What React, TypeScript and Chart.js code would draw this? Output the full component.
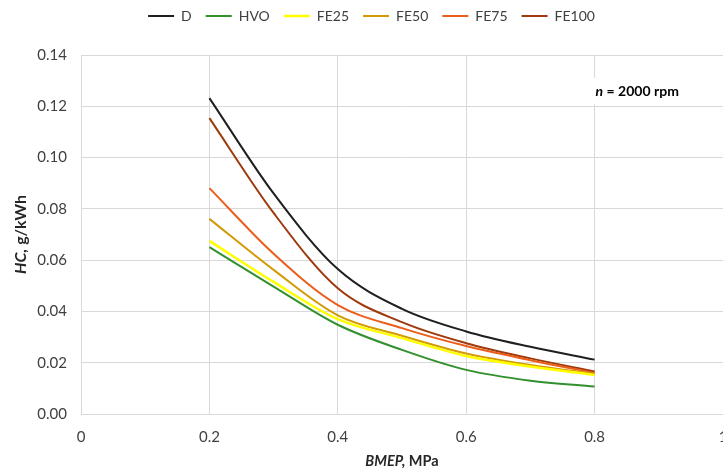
import React, { useEffect, useRef } from "react";
import { Chart, registerables } from "chart.js";

Chart.register(...registerables);

const bmep = [0.2, 0.3, 0.4, 0.5, 0.6, 0.7, 0.8];
const seriesNames = ["D", "HVO", "FE25", "FE50", "FE75", "FE100"];
const dValues = [0.1232, 0.086, 0.0565, 0.041, 0.0322, 0.0262, 0.0212];
const hvoValues = [0.0651, 0.0497, 0.0348, 0.025, 0.0172, 0.013, 0.0107];
const fe25Values = [0.0675, 0.0515, 0.037, 0.0296, 0.0226, 0.0185, 0.0152];
const fe50Values = [0.0761, 0.0562, 0.0385, 0.0305, 0.0236, 0.0191, 0.0157];
const fe75Values = [0.0881, 0.0625, 0.0425, 0.0335, 0.0265, 0.021, 0.016];
const fe100Values = [0.1154, 0.0784, 0.049, 0.0358, 0.0276, 0.0217, 0.0166];
const seriesColors = ["#1f1f1f", "#33902e", "#ffff00", "#d39a05", "#eb5e1a", "#9e3a0c"];
const xTickMin = 0;
const xTickMax = 1;
const xTickStep = 0.2;
const yTickMin = 0;
const yTickMax = 0.14;
const yTickStep = 0.02;

const FONT = "Lato";
const TEXT = "#404040";
const GRID = "#d9d9d9";

const allValues = [dValues, hvoValues, fe25Values, fe50Values, fe75Values, fe100Values];

const layoutPlugin = {
  id: "layoutTweaks",
  beforeLayout(chart: any) {
    const lg = chart.legend;
    if (lg && !lg._patched) {
      const f = lg.fit.bind(lg);
      lg.fit = () => {
        f();
        lg.height += 17;
      };
      lg._patched = true;
    }
  },
  afterLayout(chart: any) {
    const lg = chart.legend;
    if (lg) {
      const dx = 10;
      lg.left += dx;
      lg.right += dx;
      lg.top -= 5;
      lg.bottom -= 5;
    }
  },
};

function drawMixed(ctx: CanvasRenderingContext2D, parts: [string, string][], cx: number, cy: number) {
  let total = 0;
  for (const [font, t] of parts) {
    ctx.font = font;
    total += ctx.measureText(t).width;
  }
  let x = cx - total / 2;
  ctx.textAlign = "left";
  ctx.textBaseline = "middle";
  for (const [font, t] of parts) {
    ctx.font = font;
    ctx.fillText(t, x, cy);
    x += ctx.measureText(t).width;
  }
}

const textPlugin = {
  id: "textTweaks",
  beforeDatasetsDraw(chart: any) {
    const { ctx, scales } = chart;
    const xs = scales.x;
    const ys = scales.y;
    ctx.save();
    const x0 = xs.getPixelForValue(0.8) - 6;
    const yTop = ys.getPixelForValue(0.131);
    ctx.fillStyle = "#ffffff";
    ctx.fillRect(x0, yTop, 96, 26);
    ctx.fillStyle = "#000000";
    ctx.textBaseline = "alphabetic";
    ctx.textAlign = "left";
    let x = x0 + 7;
    const yb = yTop + 18;
    ctx.font = `italic bold 14px ${FONT}`;
    ctx.fillText("n", x, yb);
    x += ctx.measureText("n").width;
    ctx.font = `bold 14px ${FONT}`;
    ctx.fillText(" = 2000 rpm", x, yb);
    ctx.restore();
  },
  afterDraw(chart: any) {
    const { ctx, chartArea } = chart;
    ctx.save();
    ctx.fillStyle = "#262626";
    drawMixed(
      ctx,
      [
        [`italic bold 14.5px ${FONT}`, "BMEP,"],
        [`bold 14.5px ${FONT}`, " MPa"],
      ],
      (chartArea.left + chartArea.right) / 2,
      461.5
    );
    ctx.translate(21, (chartArea.top + chartArea.bottom) / 2);
    ctx.rotate(-Math.PI / 2);
    drawMixed(
      ctx,
      [
        [`italic bold 16px ${FONT}`, "HC,"],
        [`bold 16px ${FONT}`, " g/kWh"],
      ],
      0,
      0
    );
    ctx.restore();
  },
};

export default function App() {
  const ref = useRef<HTMLCanvasElement | null>(null);
  useEffect(() => {
    if (!ref.current) return;
    const chart = new Chart(ref.current, {
      type: "line",
      data: {
        datasets: seriesNames.map((name, i) => ({
          label: name,
          data: bmep.map((b, j) => ({ x: b, y: allValues[i][j] })),
          borderColor: seriesColors[i],
          backgroundColor: seriesColors[i],
          borderWidth: i === 2 ? 2.5 : 2,
          pointRadius: 0,
          cubicInterpolationMode: "monotone",
          fill: false,
        })),
      },
      options: {
        responsive: false,
        animation: false,
        devicePixelRatio: 1,
        layout: { padding: 0 },
        plugins: {
          legend: {
            position: "top",
            labels: {
              usePointStyle: true,
              pointStyle: "line",
              pointStyleWidth: 26,
              boxHeight: 14,
              padding: 14,
              color: TEXT,
              font: { family: FONT, size: 14 },
            },
          },
          tooltip: { enabled: false },
        },
        scales: {
          x: {
            type: "linear",
            min: xTickMin,
            max: xTickMax,
            afterFit: (s: any) => {
              s.height = 57;
              s.paddingRight = 0;
              s.paddingLeft = 0;
            },
            ticks: {
              stepSize: xTickStep,
              color: TEXT,
              padding: 14,
              font: { family: FONT, size: 15 },
              maxRotation: 0,
              callback: (v: any) => String(Number(Number(v).toFixed(1))),
            },
            grid: { color: GRID, lineWidth: 1, drawTicks: false },
            border: { color: GRID, width: 1 },
          },
          y: {
            type: "linear",
            min: yTickMin,
            max: yTickMax,
            afterFit: (s: any) => {
              s.width = 81;
            },
            ticks: {
              stepSize: yTickStep,
              color: TEXT,
              padding: 14,
              font: { family: FONT, size: 15 },
              callback: (v: any) => Number(v).toFixed(2),
            },
            grid: { color: GRID, lineWidth: 1, drawTicks: false },
            border: { color: GRID, width: 1 },
          },
        },
      },
      plugins: [layoutPlugin, textPlugin],
    });
    return () => chart.destroy();
  }, []);
  return (
    <div
      style={{
        position: "absolute",
        left: 0,
        top: 0,
        width: 723,
        height: 471,
        overflow: "hidden",
        background: "#ffffff",
      }}
    >
      <canvas ref={ref} width={723} height={471} style={{ display: "block" }} />
    </div>
  );
}
